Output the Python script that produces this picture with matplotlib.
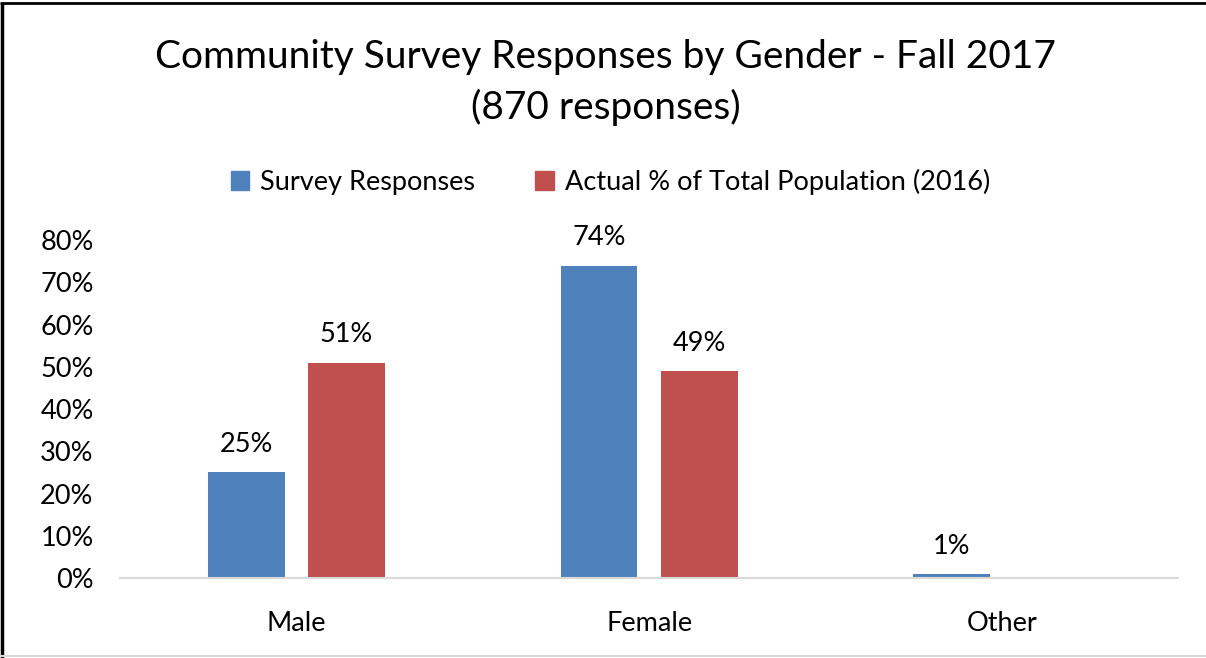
import matplotlib
matplotlib.use('Agg')

import numpy as np
import matplotlib.pyplot as plt
from matplotlib.patches import Rectangle
from matplotlib.lines import Line2D

# survey data, shares in percent
categories = ["Male", "Female", "Other"]
survey = [25, 74, 1]
population = [51, 49, None]
series_names = ["Survey Responses", "Actual % of Total Population (2016)"]
yticks = [0, 10, 20, 30, 40, 50, 60, 70, 80]

plt.rcParams['font.family'] = ['Lato', 'DejaVu Sans']

fig = plt.figure(figsize=(12.06, 6.58), dpi=100)
ax = fig.add_axes([0.0995, 0.1216, 0.8775, 0.5134])

blue = "#4F81BD"
red = "#C0504D"
x = np.arange(len(categories))
w = 0.218
off = 0.142
fs = 19.5

for i, v in enumerate(survey):
    ax.bar(x[i] - off, v, w, color=blue, zorder=2)
    ax.text(x[i] - off, v + 3.6, f"{v}%", ha="center", va="bottom", fontsize=fs)
for i, v in enumerate(population):
    if v is None:
        continue
    ax.bar(x[i] + off, v, w, color=red, zorder=2)
    ax.text(x[i] + off, v + 3.6, f"{v}%", ha="center", va="bottom", fontsize=fs)

ax.set_xlim(-0.5, 2.5)
ax.set_ylim(0, 80)
ax.set_yticks(yticks)
ax.set_yticklabels([f"{t}%" for t in yticks], fontsize=fs)
ax.set_xticks(x)
ax.set_xticklabels(categories, fontsize=fs)
ax.tick_params(axis="both", length=0)
ax.tick_params(axis="y", pad=19)
ax.tick_params(axis="x", pad=24)
for s in ["top", "right", "left"]:
    ax.spines[s].set_visible(False)
ax.spines["bottom"].set_color("#d9d9d9")
ax.spines["bottom"].set_linewidth(1.5)

fig.text(0.502, 0.914, "Community Survey Responses by Gender - Fall 2017",
         ha="center", va="center", fontsize=28)
fig.text(0.502, 0.836, "(870 responses)", ha="center", va="center", fontsize=28)

# legend built by hand so the swatches sit on one line
handles = [Rectangle((0, 0), 1, 1, color=blue), Rectangle((0, 0), 1, 1, color=red)]
fig.legend(handles, series_names, loc="center", bbox_to_anchor=(0.506, 0.723),
           ncol=2, frameon=False, fontsize=fs, handlelength=0.7, handleheight=0.7,
           handletextpad=0.4, columnspacing=2.2)

# frame: dark on top and left, faint grey along the bottom
fig.add_artist(Line2D([0.0015, 0.0015], [0.0, 0.996], color="black", lw=2.5,
                      transform=fig.transFigure, solid_capstyle="butt"))
fig.add_artist(Line2D([0.0, 1.0], [0.9955, 0.9955], color="black", lw=2,
                      transform=fig.transFigure, solid_capstyle="butt"))
fig.add_artist(Line2D([0.0, 1.0], [0.003, 0.003], color="#d9d9d9", lw=1.5,
                      transform=fig.transFigure, solid_capstyle="butt"))

fig.savefig("out.png", dpi=100)
plt.close()
